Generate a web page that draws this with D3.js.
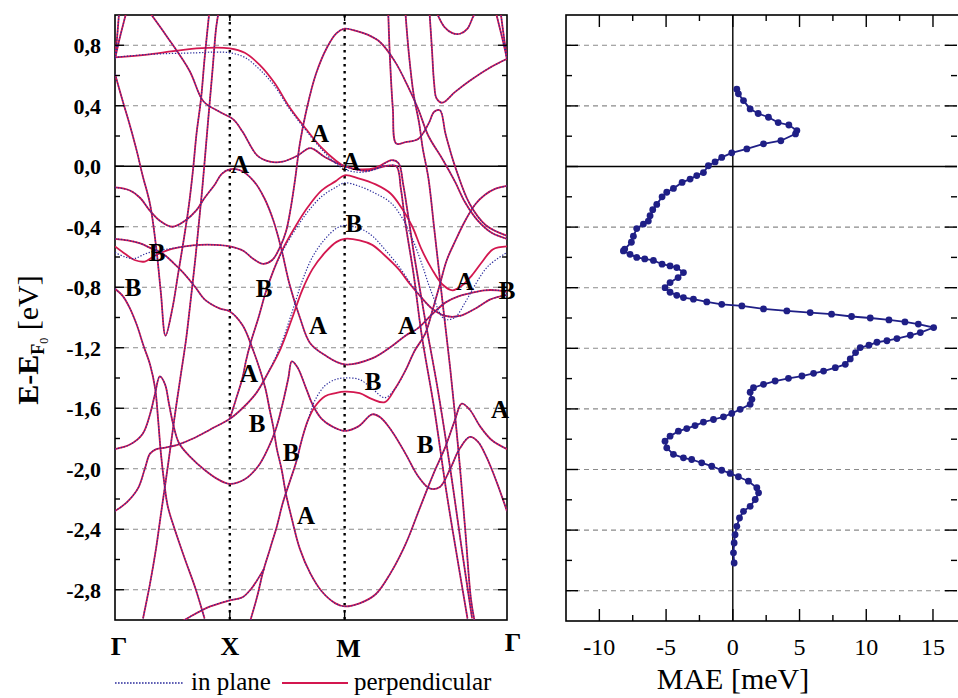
<!DOCTYPE html>
<html><head><meta charset="utf-8">
<script src="https://cdn.jsdelivr.net/npm/d3@7"></script>
<style>
body{margin:0;background:#fff}
svg text{font-family:"Liberation Serif","Times New Roman","DejaVu Serif",serif}
</style>
</head><body>
<svg id="chart" width="958" height="698"></svg>
<script>
// ---- high-symmetry path (Γ–X–M–Γ, square lattice) ----
const kPoints = [0, 1, 2, 2 + Math.SQRT2];
const kLabels = ["Γ", "X", "M", "Γ"];

// ---- energy axis ----
const energyMajor = [0.8, 0.4, 0.0, -0.4, -0.8, -1.2, -1.6, -2.0, -2.4, -2.8];
const energyLabels = ["0,8", "0,4", "0,0", "-0,4", "-0,8", "-1,2", "-1,6", "-2,0", "-2,4", "-2,8"];
const energyMinor = [0.6, 0.2, -0.2, -0.6, -1.0, -1.4, -1.8, -2.2, -2.6];

// ---- MAE axis ----
const maeMajor = [-10, -5, 0, 5, 10, 15];
const maeMinor = [-7.5, -2.5, 2.5, 7.5, 12.5];

// ---- bands, magnetisation perpendicular: [k, E (eV)] ----
const bandFlat = [[0,0.72],[0.30,0.74],[0.71,0.78],[1.0,0.78],[1.13,0.75],[1.26,0.67],[1.39,0.55],[1.52,0.39],[1.66,0.25],[1.79,0.13],[1.92,0.04],[2.0,0.0],[2.13,-0.02],[2.27,-0.01],[2.41,0.04],[2.47,0.02],[2.51,-0.12],[2.55,-0.31],[2.61,-0.61],[2.70,-1.01],[2.81,-1.47],[2.92,-2.0],[3.02,-2.53],[3.11,-2.99]];
const bandKink = [[0.28,1.04],[0.45,0.86],[0.65,0.63],[0.77,0.43],[0.91,0.36],[1.03,0.31],[1.11,0.23],[1.24,0.07],[1.35,0.03],[1.46,0.03],[1.59,0.07],[1.70,0.12],[1.83,0.06],[2.0,0.0],[2.18,-0.03],[2.35,0.0],[2.45,0.0],[2.49,-0.15],[2.53,-0.38],[2.60,-0.71],[2.67,-1.11],[2.78,-1.60],[2.89,-2.17],[2.99,-2.63],[3.07,-2.99]];
const bandDome = [[0,-0.53],[0.09,-0.58],[0.17,-0.62],[0.26,-0.63],[0.35,-0.59],[0.48,-0.55],[0.61,-0.53],[0.74,-0.52],[0.87,-0.52],[1.0,-0.53],[1.12,-0.56],[1.20,-0.61],[1.29,-0.645],[1.37,-0.62],[1.44,-0.53],[1.49,-0.43],[1.53,-0.28],[1.57,-0.08],[1.61,0.15],[1.67,0.38],[1.75,0.61],[1.85,0.79],[1.93,0.88],[2.0,0.91],[2.1,0.895],[2.2,0.87],[2.31,0.82],[2.44,0.69],[2.55,0.53],[2.64,0.38],[2.73,0.20],[2.85,0.05],[2.96,-0.10],[3.05,-0.24],[3.16,-0.36],[3.28,-0.44],[3.414,-0.48]];
const bandXDome = [[0,-0.14],[0.13,-0.16],[0.22,-0.21],[0.30,-0.29],[0.39,-0.36],[0.50,-0.40],[0.61,-0.36],[0.71,-0.29],[0.78,-0.21],[0.87,-0.12],[0.93,-0.05],[1.0,-0.02],[1.1,-0.03],[1.21,-0.10],[1.30,-0.21],[1.38,-0.36],[1.45,-0.55],[1.52,-0.78],[1.61,-1.0],[1.70,-1.17],[1.83,-1.25],[2.0,-1.31],[2.24,-1.27],[2.41,-1.19],[2.53,-1.12],[2.64,-1.07],[2.76,-0.98],[2.88,-0.90],[2.99,-0.86],[3.09,-0.84],[3.22,-0.82],[3.33,-0.82],[3.414,-0.83]];
const bandMDome = [[1.0,-1.67],[1.05,-1.55],[1.11,-1.40],[1.14,-1.29],[1.18,-1.17],[1.25,-1.0],[1.31,-0.84],[1.38,-0.69],[1.46,-0.55],[1.57,-0.40],[1.68,-0.27],[1.80,-0.16],[1.92,-0.10],[2.0,-0.06],[2.12,-0.08],[2.27,-0.12],[2.40,-0.18],[2.50,-0.28],[2.59,-0.40],[2.67,-0.55],[2.76,-0.68],[2.85,-0.78],[2.94,-0.82],[3.02,-0.79],[3.11,-0.72],[3.20,-0.63],[3.29,-0.55],[3.414,-0.53]];
const bandParabola = [[0,-0.48],[0.11,-0.49],[0.22,-0.51],[0.32,-0.545],[0.42,-0.58],[0.51,-0.64],[0.59,-0.70],[0.70,-0.80],[0.78,-0.88],[0.91,-0.94],[1.0,-0.96],[1.11,-1.05],[1.20,-1.21],[1.26,-1.34],[1.31,-1.47],[1.35,-1.62],[1.38,-1.73],[1.41,-1.87],[1.45,-2.0],[1.49,-2.17],[1.54,-2.33],[1.61,-2.53],[1.70,-2.69],[1.80,-2.81],[1.92,-2.89],[2.0,-2.91],[2.13,-2.89],[2.27,-2.83],[2.40,-2.69],[2.53,-2.50],[2.66,-2.25],[2.77,-2.04],[2.88,-1.85],[2.96,-1.68],[3.02,-1.57],[3.09,-1.61],[3.18,-1.72],[3.28,-1.81],[3.414,-1.87]];
const bandBDome = [[0,-2.28],[0.105,-2.22],[0.20,-2.13],[0.26,-2.0],[0.305,-1.90],[0.36,-1.87],[0.44,-1.86],[0.55,-1.84],[0.68,-1.80],[0.83,-1.74],[1.0,-1.67],[1.11,-1.60],[1.23,-1.50],[1.33,-1.37],[1.44,-1.21],[1.54,-1.01],[1.63,-0.82],[1.72,-0.68],[1.83,-0.57],[1.93,-0.50],[2.0,-0.48],[2.13,-0.49],[2.24,-0.52],[2.35,-0.59],[2.47,-0.68],[2.57,-0.78],[2.66,-0.86],[2.76,-0.94],[2.88,-0.99],[3.0,-0.99],[3.14,-0.94],[3.27,-0.88],[3.414,-0.85]];
const bandLambda = [[0,-1.87],[0.13,-1.84],[0.24,-1.77],[0.305,-1.64],[0.35,-1.50],[0.39,-1.39],[0.435,-1.44],[0.47,-1.57],[0.505,-1.70],[0.557,-1.83],[0.653,-1.92],[0.784,-2.01],[0.897,-2.07],[1.0,-2.10],[1.13,-2.07],[1.25,-1.98],[1.33,-1.87],[1.40,-1.74],[1.46,-1.57],[1.51,-1.40],[1.54,-1.29],[1.59,-1.33],[1.66,-1.46],[1.73,-1.59],[1.80,-1.67],[1.89,-1.72],[2.0,-1.75],[2.12,-1.72],[2.24,-1.64],[2.31,-1.66],[2.41,-1.75],[2.53,-1.90],[2.64,-2.05],[2.74,-2.13],[2.83,-2.12],[2.92,-2.0],[3.0,-1.87],[3.09,-1.79],[3.16,-1.82],[3.24,-1.93],[3.33,-2.10],[3.414,-2.28]];
const bandSteepA = [[0,-0.81],[0.07,-0.86],[0.13,-0.94],[0.19,-1.05],[0.25,-1.19],[0.305,-1.31],[0.35,-1.47],[0.375,-1.67],[0.40,-1.90],[0.43,-2.10],[0.46,-2.25],[0.52,-2.40],[0.61,-2.60],[0.70,-2.79],[0.78,-2.99]];
const bandV = [[0,0.61],[0.06,0.45],[0.13,0.27],[0.19,0.10],[0.24,-0.06],[0.305,-0.25],[0.36,-0.545],[0.40,-0.84],[0.44,-1.12],[0.50,-0.94],[0.55,-0.71],[0.60,-0.48],[0.645,-0.25],[0.68,-0.02],[0.71,0.215],[0.75,0.45],[0.78,0.71],[0.82,1.01]];
const bandSteepB = [[0.244,-2.99],[0.305,-2.76],[0.357,-2.53],[0.40,-2.30],[0.444,-2.07],[0.488,-1.83],[0.53,-1.60],[0.575,-1.37],[0.62,-1.14],[0.66,-0.88],[0.70,-0.61],[0.73,-0.38],[0.76,-0.15],[0.79,0.115],[0.82,0.38],[0.85,0.64],[0.88,0.91],[0.90,1.01]];
const bandGammaHiA = [[0,0.71],[0.017,0.84],[0.035,1.01]];
const bandGammaHiB = [[0,0.71],[0.044,0.856],[0.096,1.01]];
const bandLow = [[1.18,-3.0],[1.24,-2.84],[1.29,-2.68],[1.35,-2.53],[1.41,-2.38],[1.46,-2.23],[1.52,-2.09],[1.58,-1.95],[1.63,-1.80],[1.68,-1.68],[1.74,-1.59],[1.83,-1.52],[1.92,-1.50],[2.0,-1.49],[2.13,-1.50],[2.24,-1.54],[2.35,-1.56],[2.44,-1.47],[2.53,-1.35],[2.61,-1.22],[2.70,-1.11],[2.77,-0.94],[2.83,-0.78],[2.89,-0.62],[2.96,-0.50],[3.05,-0.36],[3.14,-0.25],[3.22,-0.19],[3.31,-0.15],[3.414,-0.13]];
const bandBottom = [[0.52,-3.04],[0.65,-2.98],[0.83,-2.91],[1.0,-2.87],[1.11,-2.85],[1.19,-2.79],[1.26,-2.71],[1.30,-2.66]];
const bandStepA = [[2.38,1.01],[2.395,0.71],[2.42,0.38],[2.45,0.15],[2.53,0.16],[2.64,0.18],[2.73,0.28],[2.78,0.36],[2.83,0.37],[2.88,0.21],[2.97,-0.02],[3.09,-0.25],[3.23,-0.39],[3.414,-0.46]];
const bandStepB = [[2.53,1.01],[2.56,0.74],[2.60,0.48],[2.65,0.28],[2.68,0.12],[2.73,-0.08],[2.78,-0.41],[2.85,-0.88],[2.92,-1.34],[2.99,-1.87],[3.05,-2.40],[3.10,-2.86],[3.13,-3.0]];
const bandUpperG = [[2.74,1.01],[2.76,0.78],[2.78,0.545],[2.80,0.45],[2.85,0.42],[2.96,0.49],[3.09,0.565],[3.25,0.645],[3.414,0.71]];
const bandPocket = [[2.805,1.01],[2.87,0.92],[2.94,0.88],[3.005,0.876],[3.07,0.91],[3.12,0.99],[3.14,1.01]];
const bandGammaHiC = [[3.414,0.71],[3.39,0.84],[3.36,1.01]];
const bandGammaHiD = [[3.414,0.71],[3.37,0.856],[3.32,1.01]];

// ---- bands that shift for in-plane magnetisation ----
const bandFlatIn = [[0,0.72],[0.30,0.74],[0.71,0.75],[0.87,0.755],[1.0,0.75],[1.13,0.72],[1.26,0.64],[1.39,0.53],[1.52,0.38],[1.66,0.24],[1.79,0.12],[1.92,0.02],[2.0,-0.02],[2.13,-0.04],[2.27,-0.02],[2.41,0.04],[2.47,0.02],[2.51,-0.12],[2.55,-0.31],[2.61,-0.61],[2.70,-1.01],[2.81,-1.47],[2.92,-2.0],[3.02,-2.53],[3.11,-2.99]];
const bandDomeIn = [[0,-0.57],[0.09,-0.60],[0.17,-0.61],[0.26,-0.58],[0.35,-0.56],[0.48,-0.545],[0.61,-0.53],[0.74,-0.52],[0.87,-0.52],[1.0,-0.53],[1.12,-0.56],[1.20,-0.61],[1.29,-0.645],[1.37,-0.62],[1.44,-0.53],[1.49,-0.43],[1.53,-0.28],[1.57,-0.08],[1.61,0.15],[1.67,0.38],[1.75,0.61],[1.85,0.79],[1.93,0.88],[2.0,0.91],[2.1,0.895],[2.2,0.87],[2.31,0.82],[2.44,0.69],[2.55,0.53],[2.64,0.38],[2.73,0.20],[2.85,0.05],[2.96,-0.10],[3.05,-0.24],[3.16,-0.36],[3.28,-0.44],[3.414,-0.48]];
const bandMDomeIn = [[1.0,-1.67],[1.05,-1.55],[1.11,-1.40],[1.14,-1.29],[1.18,-1.17],[1.25,-1.0],[1.31,-0.84],[1.38,-0.69],[1.46,-0.56],[1.57,-0.42],[1.68,-0.30],[1.80,-0.20],[1.92,-0.14],[2.0,-0.11],[2.12,-0.13],[2.27,-0.18],[2.40,-0.24],[2.50,-0.34],[2.59,-0.48],[2.67,-0.64],[2.76,-0.84],[2.87,-1.01],[2.96,-1.0],[3.05,-0.90],[3.14,-0.78],[3.25,-0.66],[3.414,-0.57]];
const bandBDomeIn = [[0,-2.28],[0.105,-2.22],[0.20,-2.13],[0.26,-2.0],[0.305,-1.90],[0.36,-1.87],[0.44,-1.86],[0.55,-1.84],[0.68,-1.80],[0.83,-1.74],[1.0,-1.67],[1.11,-1.60],[1.23,-1.50],[1.33,-1.37],[1.44,-1.19],[1.54,-0.97],[1.63,-0.76],[1.72,-0.60],[1.83,-0.48],[1.93,-0.41],[2.0,-0.39],[2.13,-0.41],[2.24,-0.46],[2.35,-0.55],[2.47,-0.66],[2.57,-0.77],[2.66,-0.86],[2.76,-0.94],[2.88,-0.99],[3.0,-0.99],[3.14,-0.94],[3.27,-0.88],[3.414,-0.85]];
const bandLowIn = [[1.18,-3.0],[1.24,-2.84],[1.29,-2.68],[1.35,-2.53],[1.41,-2.38],[1.46,-2.23],[1.52,-2.09],[1.58,-1.95],[1.63,-1.80],[1.68,-1.68],[1.74,-1.55],[1.83,-1.45],[1.92,-1.41],[2.0,-1.40],[2.13,-1.41],[2.24,-1.47],[2.35,-1.53],[2.44,-1.47],[2.53,-1.35],[2.61,-1.22],[2.70,-1.11],[2.77,-0.94],[2.83,-0.78],[2.89,-0.62],[2.96,-0.50],[3.05,-0.36],[3.14,-0.25],[3.22,-0.19],[3.31,-0.15],[3.414,-0.13]];

const perpendicularBands = [bandFlat, bandKink, bandDome, bandXDome, bandMDome, bandParabola, bandBDome, bandLambda, bandSteepA, bandV, bandSteepB, bandGammaHiA, bandGammaHiB, bandLow, bandBottom, bandStepA, bandStepB, bandUpperG, bandPocket, bandGammaHiC, bandGammaHiD];
const inPlaneBands = [bandFlatIn, bandKink, bandDomeIn, bandXDome, bandMDomeIn, bandParabola, bandBDomeIn, bandLambda, bandSteepA, bandV, bandSteepB, bandGammaHiA, bandGammaHiB, bandLowIn, bandBottom, bandStepA, bandStepB, bandUpperG, bandPocket, bandGammaHiC, bandGammaHiD];

// ---- A / B markers on the band plot ----
const markText = ["A","A","A","B","B","B","B","A","A","A","B","A","B","B","B","A","B","A"];
const markK = [1.786,1.089,2.056,2.08,0.366,0.157,1.298,1.768,2.544,3.049,3.415,1.167,2.247,1.237,1.533,3.354,2.70,1.664];
const markE = [0.215,0.01,0.03,-0.38,-0.57,-0.80,-0.81,-1.05,-1.05,-0.76,-0.82,-1.37,-1.42,-1.70,-1.89,-1.61,-1.84,-2.31];

// ---- MAE vs band filling ----
const maeEnergy = [0.51,0.48,0.435,0.38,0.35,0.325,0.29,0.274,0.237,0.215,0.17,0.15,0.116,0.09,0.06,0.03,0.005,-0.04,-0.06,-0.083,-0.105,-0.145,-0.17,-0.2,-0.25,-0.285,-0.325,-0.36,-0.38,-0.41,-0.46,-0.5,-0.545,-0.557,-0.58,-0.6,-0.61,-0.62,-0.645,-0.656,-0.667,-0.7,-0.733,-0.766,-0.8,-0.83,-0.85,-0.865,-0.876,-0.894,-0.91,-0.92,-0.94,-0.953,-0.964,-0.975,-0.99,-1.0,-1.013,-1.026,-1.04,-1.063,-1.096,-1.114,-1.136,-1.15,-1.16,-1.18,-1.195,-1.228,-1.27,-1.306,-1.328,-1.35,-1.365,-1.383,-1.398,-1.416,-1.438,-1.46,-1.49,-1.537,-1.57,-1.603,-1.63,-1.652,-1.67,-1.687,-1.71,-1.73,-1.747,-1.78,-1.813,-1.857,-1.9,-1.923,-1.934,-1.956,-1.978,-2.005,-2.026,-2.048,-2.077,-2.12,-2.154,-2.198,-2.243,-2.276,-2.32,-2.375,-2.43,-2.485,-2.55,-2.617];
const maeValue = [0.3,0.42,0.8,1.3,1.9,2.67,3.4,4.2,4.8,4.7,3.6,2.3,1.05,-0.08,-0.83,-1.33,-1.83,-2.2,-2.7,-3.2,-3.8,-4.45,-4.95,-5.3,-5.7,-6.0,-6.2,-6.33,-6.7,-7.2,-7.45,-7.6,-8.1,-8.2,-7.7,-7.2,-6.6,-5.95,-5.3,-4.7,-4.2,-3.7,-4.1,-4.7,-5.08,-4.7,-4.2,-3.7,-2.95,-1.95,-0.83,0.68,2.3,4.05,5.8,7.4,8.9,10.3,11.7,12.9,13.9,15.05,14.05,13.3,12.3,11.55,10.8,10.2,9.55,9.2,8.8,8.43,7.68,6.8,6.05,5.18,4.17,3.17,2.3,1.55,1.3,1.43,1.3,0.55,-0.08,-0.7,-1.45,-2.2,-2.83,-3.45,-4.08,-4.7,-5.08,-4.95,-4.45,-3.7,-3.08,-2.33,-1.58,-0.83,-0.2,0.42,1.17,1.8,1.93,1.68,1.3,0.8,0.5,0.3,0.17,0.1,0.05,0.1];

// ================= drawing =================
const svg = d3.select("#chart");
const RED = "#d3174f", BLUE = "#2b2c9c", NAVY = "#1f1f86";

const L = {x0: 115, x1: 507, y0: 15, y1: 620};
const R = {x0: 566, x1: 957, y0: 15, y1: 621};

const xk = d3.scaleLinear().domain([0, 2 + Math.SQRT2]).range([L.x0, L.x1]);
const yE = d3.scaleLinear().domain([-3, 1]).range([L.y1, L.y0]);
const yE2 = d3.scaleLinear().domain([-3, 1]).range([R.y1, R.y0]);
const xMae = d3.scaleLinear().domain([-12.5, 16.8]).range([R.x0, R.x1]);

svg.append("defs").append("clipPath").attr("id", "clipL")
  .append("rect").attr("x", L.x0).attr("y", L.y0).attr("width", L.x1 - L.x0).attr("height", L.y1 - L.y0);

// ---- left panel: grid ----
const gL = svg.append("g");
gL.selectAll("line.grid").data(energyMajor).enter().append("line")
  .attr("x1", L.x0).attr("x2", L.x1).attr("y1", d => yE(d)).attr("y2", d => yE(d))
  .attr("stroke", d => d === 0 ? "#000" : "#8a8a8a")
  .attr("stroke-width", d => d === 0 ? 1.4 : 1.1)
  .attr("stroke-dasharray", d => d === 0 ? null : "5,4");
gL.selectAll("line.kv").data(kPoints.slice(1, 3)).enter().append("line")
  .attr("x1", d => xk(d)).attr("x2", d => xk(d)).attr("y1", L.y0).attr("y2", L.y1)
  .attr("stroke", "#000").attr("stroke-width", 2.4).attr("stroke-dasharray", "2.4,4.6");

// ---- bands ----
const line = d3.line().x(d => xk(d[0])).y(d => yE(d[1])).curve(d3.curveCatmullRom.alpha(0.5));
const bandsG = svg.append("g").attr("clip-path", "url(#clipL)").attr("fill", "none");
bandsG.selectAll("path.perp").data(perpendicularBands).enter().append("path")
  .attr("d", line).attr("stroke", RED).attr("stroke-width", 1.8);
bandsG.selectAll("path.inpl").data(inPlaneBands).enter().append("path")
  .attr("d", line).attr("stroke", BLUE).attr("stroke-width", 1.2).attr("stroke-dasharray", "1.3,1.7");

// ---- left frame + ticks ----
gL.append("rect").attr("x", L.x0).attr("y", L.y0).attr("width", L.x1 - L.x0).attr("height", L.y1 - L.y0)
  .attr("fill", "none").attr("stroke", "#000").attr("stroke-width", 1.6);
const ticksL = svg.append("g").attr("stroke", "#000").attr("stroke-width", 1.4);
[[energyMajor, 9], [energyMinor, 5]].forEach(([arr, len]) => {
  arr.forEach(e => {
    ticksL.append("line").attr("x1", L.x0).attr("x2", L.x0 + len).attr("y1", yE(e)).attr("y2", yE(e));
    ticksL.append("line").attr("x1", L.x1).attr("x2", L.x1 - len).attr("y1", yE(e)).attr("y2", yE(e));
  });
});
kPoints.slice(1, 3).forEach(k => {
  ticksL.append("line").attr("x1", xk(k)).attr("x2", xk(k)).attr("y1", L.y1).attr("y2", L.y1 - 8);
  ticksL.append("line").attr("x1", xk(k)).attr("x2", xk(k)).attr("y1", L.y0).attr("y2", L.y0 + 6);
});

// energy tick labels
svg.append("g").selectAll("text").data(energyMajor).enter().append("text")
  .attr("x", 101).attr("y", d => yE(d) + 8)
  .attr("text-anchor", "end").attr("font-weight", "bold").attr("font-size", 22)
  .text((d, i) => energyLabels[i]);

// k-point labels
const kLabelDy = [655, 655, 657, 651];
const kLabelDx = [4, 0, 4, 6];
svg.append("g").selectAll("text").data(kPoints).enter().append("text")
  .attr("x", (d, i) => xk(d) + kLabelDx[i]).attr("y", (d, i) => kLabelDy[i])
  .attr("text-anchor", "middle").attr("font-weight", "bold").attr("font-size", 26)
  .text((d, i) => kLabels[i]);

// y axis title
const yt = svg.append("text").attr("transform", "translate(38,340) rotate(-90)")
  .attr("text-anchor", "middle").attr("font-size", 30);
yt.append("tspan").attr("font-weight", "bold").text("E-E");
yt.append("tspan").attr("font-weight", "bold").attr("font-size", 18).attr("dy", 6).text("F");
yt.append("tspan").attr("font-size", 12).attr("dy", 4).text("0");
yt.append("tspan").attr("dy", -10).text(" [eV]");

// A/B markers
svg.append("g").selectAll("text").data(markText).enter().append("text")
  .attr("x", (d, i) => xk(markK[i])).attr("y", (d, i) => yE(markE[i]))
  .attr("text-anchor", "middle").attr("dominant-baseline", "central")
  .attr("font-weight", "bold").attr("font-size", 25)
  .text(d => d);

// legend
const lg = svg.append("g");
lg.append("line").attr("x1", 115).attr("x2", 183).attr("y1", 683).attr("y2", 683)
  .attr("stroke", BLUE).attr("stroke-width", 1.4).attr("stroke-dasharray", "1.6,1.4");
lg.append("text").attr("x", 191).attr("y", 690).attr("font-size", 25).text("in plane");
lg.append("line").attr("x1", 282).attr("x2", 348).attr("y1", 683).attr("y2", 683)
  .attr("stroke", RED).attr("stroke-width", 1.8);
lg.append("text").attr("x", 354).attr("y", 690).attr("font-size", 25).text("perpendicular");

// ---- right panel ----
const gR = svg.append("g");
gR.selectAll("line.grid").data(energyMajor).enter().append("line")
  .attr("x1", R.x0).attr("x2", R.x1).attr("y1", d => yE2(d)).attr("y2", d => yE2(d))
  .attr("stroke", d => d === 0 ? "#000" : "#8a8a8a")
  .attr("stroke-width", d => d === 0 ? 1.4 : 1.1)
  .attr("stroke-dasharray", d => d === 0 ? null : "5,4");
gR.append("line").attr("x1", xMae(0)).attr("x2", xMae(0)).attr("y1", R.y0).attr("y2", R.y1)
  .attr("stroke", "#000").attr("stroke-width", 1.4);

const maePts = maeEnergy.map((e, i) => [maeValue[i], e]);
gR.append("path").datum(maePts)
  .attr("d", d3.line().x(d => xMae(d[0])).y(d => yE2(d[1])))
  .attr("fill", "none").attr("stroke", NAVY).attr("stroke-width", 1.8);
gR.selectAll("circle").data(maePts).enter().append("circle")
  .attr("cx", d => xMae(d[0])).attr("cy", d => yE2(d[1])).attr("r", 3.4).attr("fill", NAVY);

gR.append("rect").attr("x", R.x0).attr("y", R.y0).attr("width", R.x1 - R.x0 + 4).attr("height", R.y1 - R.y0)
  .attr("fill", "none").attr("stroke", "#000").attr("stroke-width", 1.6);
const ticksR = svg.append("g").attr("stroke", "#000").attr("stroke-width", 1.4);
[[maeMajor, 12], [maeMinor, 6]].forEach(([arr, len]) => {
  arr.forEach(v => {
    ticksR.append("line").attr("x1", xMae(v)).attr("x2", xMae(v)).attr("y1", R.y0).attr("y2", R.y0 + len);
    ticksR.append("line").attr("x1", xMae(v)).attr("x2", xMae(v)).attr("y1", R.y1).attr("y2", R.y1 - len);
  });
});
[[energyMajor, 12], [energyMinor, 6]].forEach(([arr, len]) => {
  arr.forEach(e => {
    ticksR.append("line").attr("x1", R.x0).attr("x2", R.x0 + len).attr("y1", yE2(e)).attr("y2", yE2(e));
    ticksR.append("line").attr("x1", R.x1).attr("x2", R.x1 - len).attr("y1", yE2(e)).attr("y2", yE2(e));
  });
});
svg.append("g").selectAll("text").data(maeMajor).enter().append("text")
  .attr("x", d => xMae(d)).attr("y", 655).attr("text-anchor", "middle")
  .attr("font-size", 24).text(d => d);
svg.append("text").attr("x", 733).attr("y", 689).attr("text-anchor", "middle")
  .attr("font-size", 30).text("MAE [meV]");
</script>
</body></html>
